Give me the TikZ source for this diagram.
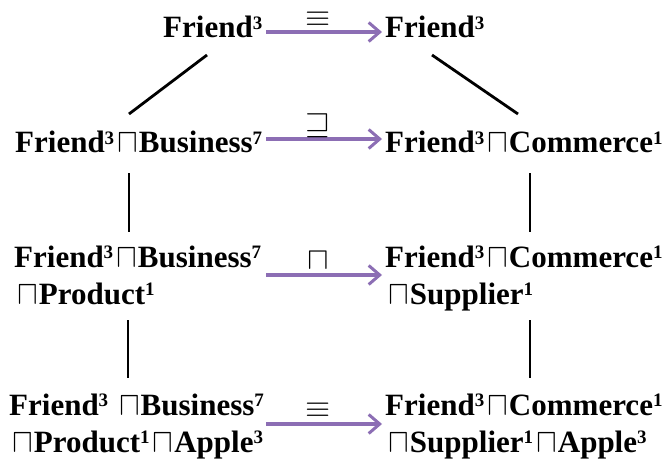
\documentclass[tikz,border=0pt]{standalone}
\usepackage{fontspec}
\usepackage{graphicx}
\setmainfont{Liberation Serif}
\usetikzlibrary{arrows.meta,calc}
\definecolor{arrowpurple}{RGB}{140,110,180}
% superscript counts and the conjunction sign
\newcommand\upn[1]{\raisebox{8.5pt}{\fontsize{19}{19}\selectfont\bfseries #1}}
\newcommand\cj{\hspace{3pt}\scalebox{1.25}[1.35]{$\sqcap$}\hspace{1pt}}
% relation symbols written over the mapping arrows
\newcommand\relsym[1]{\scalebox{1.3}[1.25]{$#1$}}
\begin{document}
\begin{tikzpicture}[x=1pt,y=1pt,
  concept/.style={inner sep=0pt,anchor=base west,font=\fontsize{31}{37}\selectfont\bfseries},
  edge/.style={line width=2.8pt,black},
  refine/.style={line width=3.2pt,arrowpurple,-{Straight Barb[length=11pt,width=19pt,line width=3pt]}},
  rel/.style={inner sep=0pt,font=\fontsize{30}{30}\selectfont,text=black},
]
\useasboundingbox (0,0) rectangle (671,-473);

% columns where the mapping arrows start and end
\coordinate (fromcol) at (266,0);
\coordinate (tocol) at (382,0);

% left column
\node[concept] (aL) at (163,-38) {Friend\upn{3}};
\node[concept] (bL) at (15,-153) {Friend\upn{3}\cj Business\upn{7}};
\node[concept] (cL) at (14,-267) {\begin{tabular}[t]{@{}l@{}}Friend\upn{3}\cj Business\upn{7}\\\cj Product\upn{1}\end{tabular}};
\node[concept] (dL) at (9,-415) {\begin{tabular}[t]{@{}l@{}}Friend\upn{3} \cj Business\upn{7}\\\cj Product\upn{1}\cj Apple\upn{3}\end{tabular}};

% right column
\node[concept] (aR) at (385,-38) {Friend\upn{3}};
\node[concept] (bR) at (385,-153) {Friend\upn{3}\cj Commerce\upn{1}};
\node[concept] (cR) at (385,-267) {\begin{tabular}[t]{@{}l@{}}Friend\upn{3}\cj Commerce\upn{1}\\\cj Supplier\upn{1}\end{tabular}};
\node[concept] (dR) at (385,-415) {\begin{tabular}[t]{@{}l@{}}Friend\upn{3}\cj Commerce\upn{1}\\\cj Supplier\upn{1}\cj Apple\upn{3}\end{tabular}};

% hierarchy links
\draw[edge] ($(aL.base west)+(44,-17)$) -- ($(bL.base west)+(114,39)$);
\draw[edge] ($(bL.base west)+(114,-20)$) -- ($(cL.base west)+(115,35)$);
\draw[edge] ($(cL.base west)+(114,-53)$) -- ($(dL.base west)+(119,37)$);
\draw[edge] ($(aR.base west)+(47,-17)$) -- ($(bR.base west)+(133,39)$);
\draw[edge] ($(bR.base west)+(145,-20)$) -- ($(cR.base west)+(145,35)$);
\draw[edge] ($(cR.base west)+(145,-53)$) -- ($(dR.base west)+(145,37)$);

% mappings between the two hierarchies
\draw[refine] ($(fromcol |- aL.base)+(0,6)$) -- node[rel,pos=0.45,yshift=13pt]{\relsym{\equiv}} ($(tocol |- aR.base)+(0,6)$);
\draw[refine] ($(fromcol |- bL.base)+(0,14)$) -- node[rel,pos=0.45,yshift=13pt]{\relsym{\sqsupseteq}} ($(tocol |- bR.base)+(0,14)$);
\draw[refine] ($(fromcol |- cL.base)+(0,-8)$) -- node[rel,pos=0.45,yshift=14pt]{\relsym{\sqcap}} ($(tocol |- cR.base)+(0,-8)$);
\draw[refine] ($(fromcol |- dL.base)+(0,-9)$) -- node[rel,pos=0.45,yshift=14pt]{\relsym{\equiv}} ($(tocol |- dR.base)+(0,-9)$);
\end{tikzpicture}
\end{document}
